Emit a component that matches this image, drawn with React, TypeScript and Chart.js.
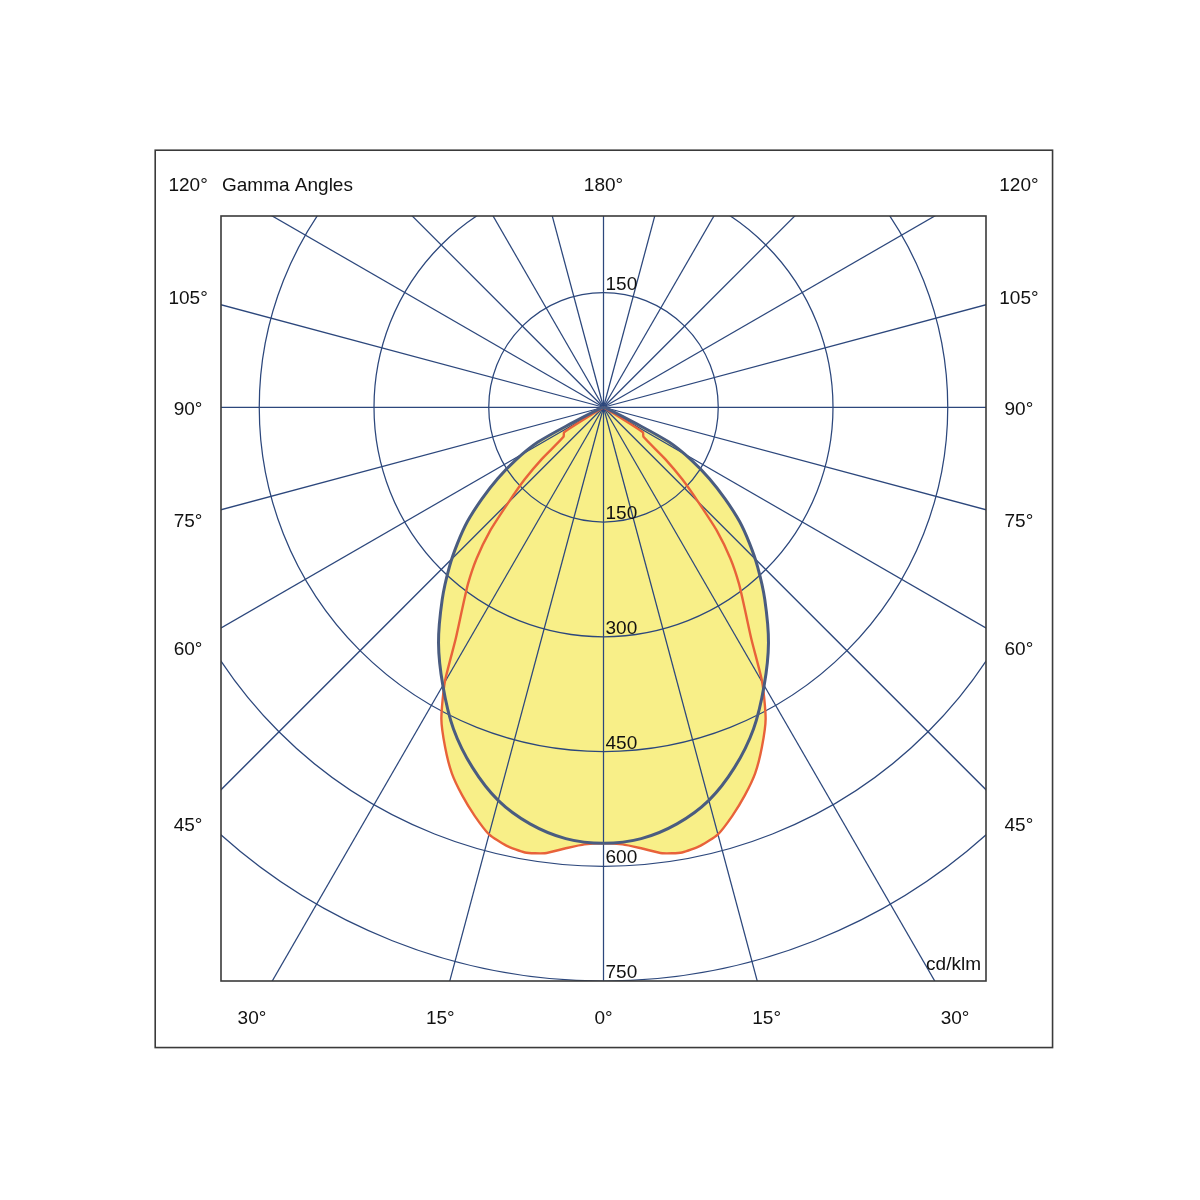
import React, { useEffect, useRef } from "react";
import { Chart, registerables } from "chart.js";

Chart.register(...registerables);

// ---- data (gamma angle in degrees, intensity in cd/klm) ----
const GAMMA_C0 = [0, 5, 10, 15, 20, 25, 30, 35, 40, 44, 47, 50, 53, 56, 59, 62, 63.5, 70, 90];
const I_C0 = [570, 566, 553, 532, 501, 464, 420, 376, 328, 290, 261, 232, 199, 167, 134, 97, 45, 5, 0];

const GAMMA_C90 = [0, 2.5, 5, 7.5, 10, 12.5, 15, 17.5, 20, 22.5, 25, 27.5, 30, 32.5, 35, 37.5, 40, 42.5, 45, 47.5, 50, 53.5, 57.5, 90];
const I_C90 = [570, 572, 579, 588, 591, 587, 578, 560, 540, 518, 490, 459, 415, 360, 322, 291, 258, 220, 175, 140, 105, 65, 61, 0];

// ---- grid / tick values ----
const RING_VALUES = [150, 300, 450, 600, 750];
const RING_LABELS_BELOW = [150, 300, 450, 600, 750];
const RING_LABELS_ABOVE = [150];
const SPOKE_ANGLES = [0, 15, 30, 45, 60, 75, 90, 105, 120, 135, 150, 165, 180, 195, 210, 225, 240, 255, 270, 285, 300, 315, 330, 345];
const SIDE_LABELS = [45, 60, 75, 90, 105];
const BOTTOM_LABELS = [-30, -15, 0, 15, 30];
const TOP_CENTER_LABEL = "180°";
const TOP_CORNER_LABEL = "120°";
const TITLE = "Gamma Angles";
const UNIT = "cd/klm";

// ---- axis ranges (cd/klm) ----
const X_MIN = -500;
const X_MAX = 500;
const Y_MIN = -750;
const Y_MAX = 250;

// label placement in data units
const LABEL_COL = 543;
const LABEL_TOP_Y = 294;
const LABEL_BOTTOM_Y = -796;
const OUTER = { xMin: -586, xMax: 587, yMin: -837, yMax: 336 };
const TEXT_DY = 3;

const GRID_COLOR = "#2c477c";
const BLUE = "#4a5c80";
const RED = "#e8623a";
const FILL = "#f8ef88";
const FONT = "19px 'Liberation Sans', Arial, sans-serif";

const rad = (d: number) => (d * Math.PI) / 180;

function toCurve(gammas: number[], values: number[]) {
  const pts: { x: number; y: number }[] = [];
  for (let i = gammas.length - 1; i >= 0; i--) {
    const g = rad(gammas[i]);
    pts.push({ x: -values[i] * Math.sin(g), y: -values[i] * Math.cos(g) });
  }
  for (let i = 1; i < gammas.length; i++) {
    const g = rad(gammas[i]);
    pts.push({ x: values[i] * Math.sin(g), y: -values[i] * Math.cos(g) });
  }
  return pts;
}

const polarPlugin = {
  id: "polarGrid",
  beforeDatasetsDraw(chart: any) {
    const { ctx, chartArea: a, scales } = chart;
    const xs = scales.x;
    const ys = scales.y;
    const cx = xs.getPixelForValue(0);
    const cy = ys.getPixelForValue(0);
    const ppu = xs.getPixelForValue(1) - xs.getPixelForValue(0);
    ctx.save();
    ctx.beginPath();
    ctx.rect(a.left, a.top, a.right - a.left, a.bottom - a.top);
    ctx.clip();
    ctx.strokeStyle = GRID_COLOR;
    ctx.lineWidth = 1.25;
    for (const v of RING_VALUES) {
      ctx.beginPath();
      ctx.arc(cx, cy, v * ppu, 0, Math.PI * 2);
      ctx.stroke();
    }
    for (const g of SPOKE_ANGLES) {
      const far = 3000;
      const px = xs.getPixelForValue(far * Math.sin(rad(g)));
      const py = ys.getPixelForValue(-far * Math.cos(rad(g)));
      ctx.beginPath();
      ctx.moveTo(cx, cy);
      ctx.lineTo(px, py);
      ctx.stroke();
    }
    ctx.restore();
  },
  afterDatasetsDraw(chart: any) {
    const { ctx, chartArea: a, scales } = chart;
    const xs = scales.x;
    const ys = scales.y;
    const cx = xs.getPixelForValue(0);
    const cy = ys.getPixelForValue(0);
    const ppu = xs.getPixelForValue(1) - xs.getPixelForValue(0);
    ctx.save();
    // frames
    ctx.strokeStyle = "#3a3a3a";
    ctx.lineWidth = 1.6;
    ctx.strokeRect(a.left, a.top, a.right - a.left, a.bottom - a.top);
    const ox1 = xs.getPixelForValue(OUTER.xMin);
    const ox2 = xs.getPixelForValue(OUTER.xMax);
    const oy1 = ys.getPixelForValue(OUTER.yMax);
    const oy2 = ys.getPixelForValue(OUTER.yMin);
    ctx.strokeRect(ox1, oy1, ox2 - ox1, oy2 - oy1);

    ctx.fillStyle = "#111";
    ctx.font = FONT;
    // ring labels
    ctx.textAlign = "left";
    ctx.textBaseline = "alphabetic";
    for (const v of RING_LABELS_BELOW) {
      ctx.fillText(String(v), cx + 2, cy + v * ppu - 3);
    }
    for (const v of RING_LABELS_ABOVE) {
      ctx.fillText(String(v), cx + 2, cy - v * ppu - 3);
    }
    // unit
    ctx.textAlign = "right";
    ctx.fillText(UNIT, a.right - 5, a.bottom - 11);

    // side labels
    ctx.textAlign = "center";
    ctx.textBaseline = "middle";
    for (const g of SIDE_LABELS) {
      const yv = -LABEL_COL / Math.tan(rad(g));
      const py = ys.getPixelForValue(yv) + TEXT_DY;
      ctx.fillText(g + "°", xs.getPixelForValue(-LABEL_COL), py);
      ctx.fillText(g + "°", xs.getPixelForValue(LABEL_COL), py);
    }
    // bottom labels
    for (const g of BOTTOM_LABELS) {
      const xv = -LABEL_BOTTOM_Y * Math.tan(rad(g));
      ctx.fillText(Math.abs(g) + "°", xs.getPixelForValue(xv), ys.getPixelForValue(LABEL_BOTTOM_Y) + TEXT_DY);
    }
    // top labels
    const ty = ys.getPixelForValue(LABEL_TOP_Y) + TEXT_DY;
    ctx.fillText(TOP_CENTER_LABEL, cx, ty);
    ctx.fillText(TOP_CORNER_LABEL, xs.getPixelForValue(-LABEL_COL), ty);
    ctx.fillText(TOP_CORNER_LABEL, xs.getPixelForValue(LABEL_COL), ty);
    ctx.textAlign = "left";
    ctx.fillText(TITLE, a.left + 1, ty);
    ctx.restore();
  },
};

export default function App() {
  const ref = useRef<HTMLCanvasElement | null>(null);
  useEffect(() => {
    if (!ref.current) return;
    const chart = new Chart(ref.current, {
      type: "scatter",
      data: {
        datasets: [
          {
            label: "C0-C180",
            data: toCurve(GAMMA_C0, I_C0),
            showLine: true,
            borderColor: BLUE,
            borderWidth: 3,
            backgroundColor: FILL,
            fill: "shape",
            tension: 0.3,
            pointRadius: 0,
          },
          {
            label: "C90-C270",
            data: toCurve(GAMMA_C90, I_C90),
            showLine: true,
            borderColor: RED,
            borderWidth: 2.4,
            backgroundColor: FILL,
            fill: "shape",
            tension: 0.2,
            pointRadius: 0,
          },
        ],
      } as any,
      options: {
        responsive: false,
        animation: false,
        devicePixelRatio: 1,
        layout: { padding: { left: 221, right: 214, top: 216, bottom: 219 } },
        scales: {
          x: { type: "linear", min: X_MIN, max: X_MAX, display: false },
          y: { type: "linear", min: Y_MIN, max: Y_MAX, display: false },
        },
        plugins: {
          legend: { display: false },
          tooltip: { enabled: false },
          filler: { drawTime: "beforeDraw" },
        } as any,
      },
      plugins: [polarPlugin],
    });
    return () => chart.destroy();
  }, []);
  return (
    <div style={{ position: "absolute", left: 0, top: 0, width: 1200, height: 1200, background: "#fff" }}>
      <canvas ref={ref} width={1200} height={1200} />
    </div>
  );
}
